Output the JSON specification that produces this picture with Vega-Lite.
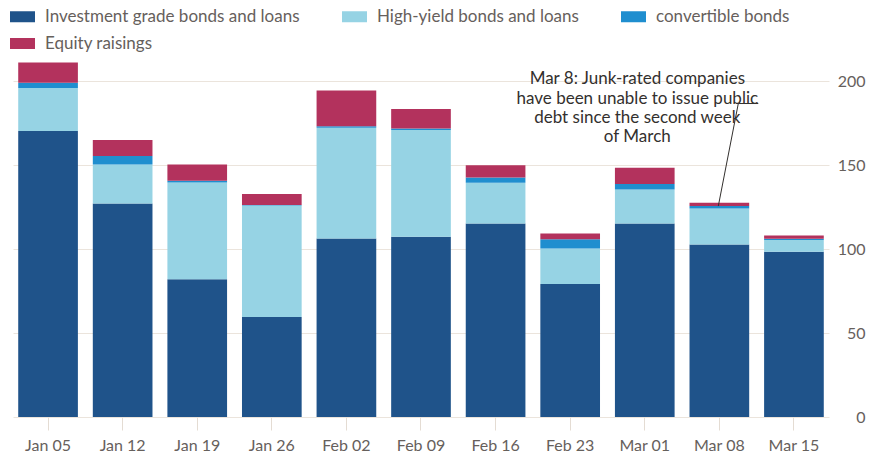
{
  "$schema": "https://vega.github.io/schema/vega-lite/v6.json",
  "width": 816,
  "height": 361,
  "autosize": {"type": "none"},
  "padding": {"left": 13, "top": 56, "right": 51, "bottom": 39},
  "background": "#ffffff",
  "config": {
    "view": {"stroke": null},
    "font": "Lato",
    "axis": {
      "labelFont": "Lato",
      "labelFontSize": 16,
      "labelColor": "#66605c",
      "domain": false,
      "gridColor": "#ebe4dc",
      "gridWidth": 1,
      "tickColor": "#e4dcd3",
      "title": null
    },
    "legend": {
      "labelFont": "Lato",
      "labelFontSize": 17,
      "labelColor": "#66605c"
    }
  },
  "layer": [
    {
      "data": {
        "values": [
          {"week": "Jan 05", "type": "Investment grade bonds and loans", "value": 170.4},
          {"week": "Jan 05", "type": "High-yield bonds and loans", "value": 25.6},
          {"week": "Jan 05", "type": "convertible bonds", "value": 3.0},
          {"week": "Jan 05", "type": "Equity raisings", "value": 12.1},
          {"week": "Jan 12", "type": "Investment grade bonds and loans", "value": 127.2},
          {"week": "Jan 12", "type": "High-yield bonds and loans", "value": 23.2},
          {"week": "Jan 12", "type": "convertible bonds", "value": 5.0},
          {"week": "Jan 12", "type": "Equity raisings", "value": 9.5},
          {"week": "Jan 19", "type": "Investment grade bonds and loans", "value": 82.1},
          {"week": "Jan 19", "type": "High-yield bonds and loans", "value": 57.6},
          {"week": "Jan 19", "type": "convertible bonds", "value": 1.0},
          {"week": "Jan 19", "type": "Equity raisings", "value": 9.7},
          {"week": "Jan 26", "type": "Investment grade bonds and loans", "value": 59.5},
          {"week": "Jan 26", "type": "High-yield bonds and loans", "value": 66.5},
          {"week": "Jan 26", "type": "convertible bonds", "value": 0.3},
          {"week": "Jan 26", "type": "Equity raisings", "value": 6.5},
          {"week": "Feb 02", "type": "Investment grade bonds and loans", "value": 106.3},
          {"week": "Feb 02", "type": "High-yield bonds and loans", "value": 65.9},
          {"week": "Feb 02", "type": "convertible bonds", "value": 1.0},
          {"week": "Feb 02", "type": "Equity raisings", "value": 21.3},
          {"week": "Feb 09", "type": "Investment grade bonds and loans", "value": 107.3},
          {"week": "Feb 09", "type": "High-yield bonds and loans", "value": 63.7},
          {"week": "Feb 09", "type": "convertible bonds", "value": 0.8},
          {"week": "Feb 09", "type": "Equity raisings", "value": 11.7},
          {"week": "Feb 16", "type": "Investment grade bonds and loans", "value": 115.3},
          {"week": "Feb 16", "type": "High-yield bonds and loans", "value": 24.2},
          {"week": "Feb 16", "type": "convertible bonds", "value": 3.2},
          {"week": "Feb 16", "type": "Equity raisings", "value": 7.3},
          {"week": "Feb 23", "type": "Investment grade bonds and loans", "value": 79.2},
          {"week": "Feb 23", "type": "High-yield bonds and loans", "value": 21.2},
          {"week": "Feb 23", "type": "convertible bonds", "value": 5.4},
          {"week": "Feb 23", "type": "Equity raisings", "value": 3.5},
          {"week": "Mar 01", "type": "Investment grade bonds and loans", "value": 115.3},
          {"week": "Mar 01", "type": "High-yield bonds and loans", "value": 20.2},
          {"week": "Mar 01", "type": "convertible bonds", "value": 3.2},
          {"week": "Mar 01", "type": "Equity raisings", "value": 9.7},
          {"week": "Mar 08", "type": "Investment grade bonds and loans", "value": 102.8},
          {"week": "Mar 08", "type": "High-yield bonds and loans", "value": 21.4},
          {"week": "Mar 08", "type": "convertible bonds", "value": 1.4},
          {"week": "Mar 08", "type": "Equity raisings", "value": 2.0},
          {"week": "Mar 15", "type": "Investment grade bonds and loans", "value": 98.4},
          {"week": "Mar 15", "type": "High-yield bonds and loans", "value": 7.0},
          {"week": "Mar 15", "type": "convertible bonds", "value": 0.7},
          {"week": "Mar 15", "type": "Equity raisings", "value": 2.0}
        ]
      },
      "transform": [
        {"calculate": "indexof(['Investment grade bonds and loans', 'High-yield bonds and loans', 'convertible bonds', 'Equity raisings'], datum.type)", "as": "stackOrder"}
      ],
      "mark": {"type": "bar"},
      "encoding": {
        "x": {
          "field": "week",
          "type": "nominal",
          "sort": null,
          "scale": {"paddingInner": 0.2, "paddingOuter": 0.07},
          "axis": {"labelAngle": 0, "ticks": true, "tickSize": 13, "labelPadding": 7, "grid": false, "title": null}
        },
        "y": {
          "field": "value",
          "type": "quantitative",
          "stack": "zero",
          "scale": {"domain": [0, 215], "nice": false, "zero": true},
          "axis": {
            "orient": "right",
            "values": [0, 50, 100, 150, 200],
            "grid": true,
            "ticks": false,
            "labelAlign": "right",
            "labelPadding": 36,
            "title": null
          }
        },
        "order": {"field": "stackOrder", "type": "quantitative", "sort": "ascending"},
        "color": {
          "field": "type",
          "type": "nominal",
          "sort": ["Investment grade bonds and loans", "High-yield bonds and loans", "convertible bonds", "Equity raisings"],
          "scale": {
            "domain": ["Investment grade bonds and loans", "High-yield bonds and loans", "convertible bonds", "Equity raisings"],
            "range": ["#1f538a", "#96d3e4", "#1f8ecf", "#b3325d"]
          },
          "legend": {
            "title": null,
            "orient": "none",
            "legendX": -3,
            "legendY": -52,
            "direction": "horizontal",
            "columns": 3,
            "symbolType": "M-1,-0.44H1V0.44H-1Z",
            "symbolSize": 625,
            "symbolStrokeWidth": 0,
            "symbolOpacity": 1,
            "labelOffset": 10,
            "columnPadding": 42,
            "rowPadding": 6,
            "padding": 0,
            "labelLimit": 400
          }
        }
      }
    },
    {
      "data": {
        "values": [
          {"x": 9.254, "y": 186.7, "x2": 8.986, "y2": 125.6},
          {"x": 9.254, "y": 186.7, "x2": 9.522, "y2": 186.7}
        ]
      },
      "mark": {"type": "rule", "color": "#33302e", "strokeWidth": 1},
      "encoding": {
        "x": {"field": "x", "type": "quantitative", "scale": {"domain": [-0.47, 10.47], "nice": false, "zero": false}, "axis": null},
        "x2": {"field": "x2"},
        "y": {"field": "y", "type": "quantitative"},
        "y2": {"field": "y2"}
      }
    },
    {
      "data": {
        "values": [
          {"label": "Mar 8: Junk-rated companies", "x": 7.9, "y": 201.2},
          {"label": "have been unable to issue public", "x": 7.9, "y": 189.6},
          {"label": "debt since the second week", "x": 7.9, "y": 178.0},
          {"label": "of March", "x": 7.9, "y": 166.7}
        ]
      },
      "mark": {"type": "text", "align": "center", "baseline": "middle", "fontSize": 17, "font": "Lato", "color": "#33302e"},
      "encoding": {
        "x": {"field": "x", "type": "quantitative", "scale": {"domain": [-0.47, 10.47], "nice": false, "zero": false}, "axis": null},
        "y": {"field": "y", "type": "quantitative"},
        "text": {"field": "label"}
      }
    }
  ],
  "resolve": {"scale": {"x": "independent"}}
}
